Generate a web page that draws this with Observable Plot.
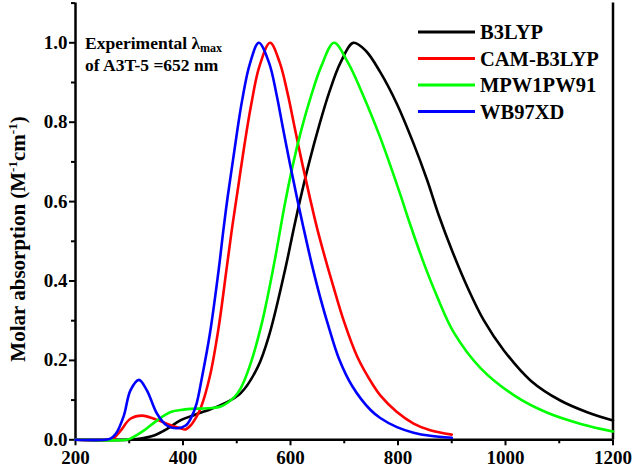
<!DOCTYPE html>
<html><head><meta charset="utf-8">
<script src="https://cdn.jsdelivr.net/npm/d3@7"></script>
<script src="https://cdn.jsdelivr.net/npm/@observablehq/plot@0.6"></script>
<style>
body{margin:0;background:#fff}
#chart{position:relative;width:632px;height:469px}
#chart svg, #chart svg text{font-family:"Liberation Serif","Times New Roman",Times,serif}
</style>
</head><body><div id="chart"></div>
<script>
const seriesNames = ["B3LYP", "CAM-B3LYP", "MPW1PW91", "WB97XD"];
const seriesColors = ["#000000", "#ff0000", "#00ff00", "#0000ff"];

const b3lypWl  = [200, 300, 321, 346, 371, 395, 420, 451, 476, 507, 539, 561, 591, 605, 618, 635, 653, 672, 693, 717, 740, 767, 798, 829, 854, 876, 901, 929, 960, 997, 1047, 1102, 1152, 1200];
const b3lypAbs = [0, 0, 0.003, 0.011, 0.028, 0.049, 0.062, 0.077, 0.091, 0.117, 0.183, 0.267, 0.435, 0.525, 0.605, 0.700, 0.790, 0.875, 0.950, 1.0, 0.98, 0.926, 0.846, 0.746, 0.655, 0.565, 0.475, 0.385, 0.300, 0.225, 0.149, 0.099, 0.0695, 0.0486];

const camWl  = [200, 262, 272, 284, 302, 324, 346, 371, 395, 404, 414, 425, 433, 450, 466, 481, 492, 503, 514, 527, 542, 562, 580, 595, 608, 622, 636, 650, 665, 681, 699, 724, 755, 767, 798, 829, 860, 900];
const camAbs = [0, 0, 0.005, 0.023, 0.053, 0.061, 0.053, 0.040, 0.029, 0.026, 0.036, 0.058, 0.080, 0.160, 0.280, 0.430, 0.540, 0.640, 0.740, 0.845, 0.940, 1.0, 0.950, 0.870, 0.785, 0.695, 0.610, 0.530, 0.455, 0.380, 0.300, 0.210, 0.135, 0.112, 0.070, 0.041, 0.024, 0.013];

const mpwWl  = [200, 295, 302, 327, 352, 377, 401, 415, 439, 470, 495, 507, 524, 546, 569, 589, 604, 620, 638, 657, 681, 707, 736, 766, 786, 805, 820, 848, 873, 904, 954, 1016, 1078, 1140, 1200];
const mpwAbs = [0, 0, 0.003, 0.023, 0.049, 0.070, 0.076, 0.078, 0.079, 0.084, 0.107, 0.129, 0.185, 0.290, 0.440, 0.590, 0.690, 0.780, 0.865, 0.940, 1.0, 0.950, 0.865, 0.765, 0.690, 0.615, 0.553, 0.445, 0.360, 0.270, 0.180, 0.112, 0.068, 0.040, 0.021];

const wbWl  = [200, 255, 265, 275, 290, 302, 318, 333, 352, 370, 389, 405, 415, 425, 435, 450, 467, 475, 483, 492, 501, 510, 524, 541, 560, 574, 586, 599, 612, 624, 640, 656, 672, 690, 715, 749, 767, 798, 829, 860, 900];
const wbAbs = [0, 0, 0.003, 0.015, 0.061, 0.124, 0.151, 0.124, 0.065, 0.036, 0.029, 0.036, 0.055, 0.090, 0.155, 0.267, 0.435, 0.527, 0.611, 0.695, 0.779, 0.855, 0.945, 1.0, 0.950, 0.870, 0.785, 0.695, 0.610, 0.535, 0.440, 0.355, 0.280, 0.205, 0.135, 0.075, 0.055, 0.032, 0.018, 0.010, 0.005];

const xDomain = [200, 1200];
const yDomain = [0, 1.1];
const xMajorTicks = [200, 400, 600, 800, 1000, 1200];
const xMinorTicks = [300, 500, 700, 900, 1100];
const yMajorTicks = [0, 0.2, 0.4, 0.6, 0.8, 1.0];
const yMinorTicks = [0.1, 0.3, 0.5, 0.7, 0.9, 1.1];

const yLabelParts = ["Molar absorption (M", "-1", "cm", "-1", ")"];
const noteLine1 = "Experimental λ";
const noteSub = "max";
const noteLine2 = "of A3T-5 =652 nm";

const series = [
  {wl: b3lypWl, ab: b3lypAbs},
  {wl: camWl, ab: camAbs},
  {wl: mpwWl, ab: mpwAbs},
  {wl: wbWl, ab: wbAbs}
];

const FONT = "Liberation Serif, Times New Roman, Times, serif";

const plot = Plot.plot({
  width: 632, height: 469,
  marginLeft: 75, marginRight: 19.5, marginTop: 2.6, marginBottom: 29.7,
  x: {domain: xDomain},
  y: {domain: yDomain},
  style: {fontFamily: FONT, fontWeight: "bold", fontSize: "19px", background: "white", color: "black", overflow: "visible"},
  marks: [
    Plot.axisX({ticks: xMajorTicks, tickSize: 6, tickPadding: 5, strokeWidth: 2, label: null, fontFamily: FONT, fontSize: 19, fontWeight: "bold", tickFormat: d => String(d)}),
    Plot.axisX({ticks: xMinorTicks, tickSize: 4, strokeWidth: 2, label: null, tickFormat: () => ""}),
    Plot.axisY({ticks: yMajorTicks, tickSize: 6, tickPadding: 2, strokeWidth: 2, label: null, fontFamily: FONT, fontSize: 19, fontWeight: "bold", tickFormat: d => d.toFixed(1)}),
    Plot.axisY({ticks: yMinorTicks, tickSize: 4, strokeWidth: 2, label: null, tickFormat: () => ""}),
    Plot.ruleX(xDomain, {stroke: "black", strokeWidth: 2.5}),
    Plot.ruleY([yDomain[0]], {stroke: "black", strokeWidth: 2.5}),
    ...series.map((s, i) => Plot.line(s.ab, {x: s.wl, y: s.ab, stroke: seriesColors[i], strokeWidth: 2.6, curve: "catmull-rom"}))
  ]
});

document.getElementById("chart").appendChild(plot);
const svg = d3.select(plot);

// y-axis title
const yl = svg.append("text")
  .attr("transform", "translate(25,239) rotate(-90)")
  .attr("text-anchor", "middle")
  .attr("font-family", FONT).attr("font-weight", "bold").attr("font-size", 21).attr("fill", "#000");
yl.append("tspan").text(yLabelParts[0]);
yl.append("tspan").attr("font-size", 13).attr("dy", -8).text(yLabelParts[1]);
yl.append("tspan").attr("dy", 8).text(yLabelParts[2]);
yl.append("tspan").attr("font-size", 13).attr("dy", -8).text(yLabelParts[3]);
yl.append("tspan").attr("dy", 8).text(yLabelParts[4]);

// annotation
const note = svg.append("g").attr("text-anchor", "start").attr("font-family", FONT).attr("font-weight", "bold").attr("font-size", 17.5).attr("fill", "#000");
const n1 = note.append("text").attr("x", 85).attr("y", 49);
n1.append("tspan").text(noteLine1);
n1.append("tspan").attr("font-size", 12).attr("dy", 3).text(noteSub);
note.append("text").attr("x", 85).attr("y", 70.5).text(noteLine2);

// legend
const lg = svg.append("g").attr("text-anchor", "start").attr("font-family", FONT).attr("font-weight", "bold").attr("font-size", 20.5);
seriesNames.forEach((name, i) => {
  const cy = 32 + i * 26.5;
  lg.append("line").attr("x1", 418).attr("x2", 475).attr("y1", cy).attr("y2", cy)
    .attr("stroke", seriesColors[i]).attr("stroke-width", 3);
  lg.append("text").attr("x", 480).attr("y", cy + 7).attr("fill", "#000").text(name);
});
</script>
</body></html>
